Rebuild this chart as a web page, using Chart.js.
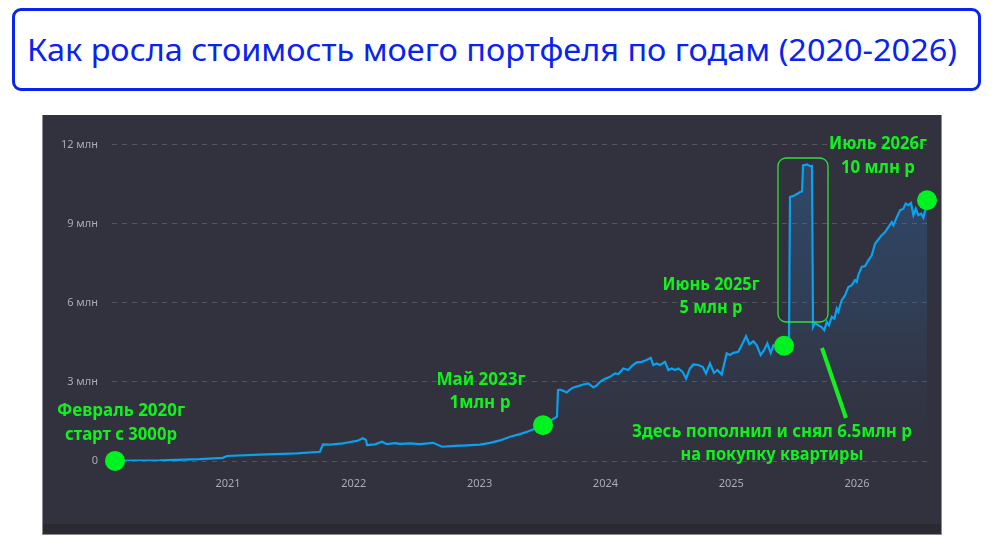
<!DOCTYPE html>
<html>
<head>
<meta charset="utf-8">
<script src="https://cdn.jsdelivr.net/npm/chart.js@4.4.0/dist/chart.umd.min.js"></script>
<style>
  html, body { margin: 0; padding: 0; background: #fff; width: 997px; height: 547px; overflow: hidden; }
  #title { position: absolute; left: 12px; top: 8px; width: 969px; height: 83px; box-sizing: border-box;
           border: 3px solid #0a24f0; border-radius: 9px; }
  #title span { position: absolute; left: 12px; top: 19px; line-height: 40px; font-family: "Noto Sans", sans-serif;
                font-size: 30px; color: #0a24f0; white-space: nowrap; transform-origin: 0 50%; }
  #panel { position: absolute; left: 42px; top: 115px; width: 898px; height: 419px;
           border: 1px solid #8c8c8c; border-top: none; }
  canvas { display: block; }
</style>
</head>
<body>
<div id="title"><span>Как росла стоимость моего портфеля по годам (2020-2026)</span></div>
<div id="panel"><canvas id="myChart" width="898" height="419"></canvas></div>
<script>
// стоимость портфеля, млн руб (x = год с долей)
const years = [
  2020.102, 2020.459, 2020.777, 2020.960, 2020.992, 2021.254, 2021.548, 2021.731, 2021.755, 2021.811,
  2021.914, 2021.970, 2022.025, 2022.073, 2022.097, 2022.105, 2022.169, 2022.224, 2022.264, 2022.328,
  2022.367, 2022.447, 2022.526, 2022.630, 2022.701, 2022.804, 2022.900, 2023.003, 2023.083, 2023.162,
  2023.242, 2023.321, 2023.377, 2023.440, 2023.504, 2023.560, 2023.615,
  2023.623, 2023.639, 2023.665, 2023.692, 2023.719, 2023.745, 2023.785, 2023.824, 2023.864, 2023.904,
  2023.931, 2023.957, 2023.997, 2024.037, 2024.076, 2024.103, 2024.142, 2024.182, 2024.209, 2024.249,
  2024.289, 2024.328, 2024.360, 2024.381, 2024.408, 2024.434, 2024.474, 2024.500, 2024.527, 2024.553,
  2024.580, 2024.614, 2024.641, 2024.672, 2024.699, 2024.738, 2024.773, 2024.800, 2024.831, 2024.863,
  2024.890, 2024.924, 2024.964, 2024.990, 2025.017, 2025.056, 2025.083, 2025.118, 2025.144, 2025.176,
  2025.203, 2025.234, 2025.261, 2025.287, 2025.314, 2025.335, 2025.364, 2025.420, 2025.459,
  2025.467, 2025.507, 2025.547, 2025.563, 2025.571, 2025.603, 2025.626, 2025.642,
  2025.650, 2025.666, 2025.692, 2025.719, 2025.740, 2025.759, 2025.777, 2025.799, 2025.820, 2025.839,
  2025.851, 2025.878, 2025.905, 2025.931, 2025.958, 2025.984, 2025.998, 2026.010, 2026.037, 2026.064,
  2026.090, 2026.117, 2026.143, 2026.169, 2026.196, 2026.223, 2026.249, 2026.276, 2026.289, 2026.316,
  2026.342, 2026.368, 2026.387, 2026.408, 2026.429, 2026.448, 2026.467, 2026.487, 2026.509, 2026.527,
  2026.541, 2026.556
];
const values = [
  0.003, 0.02, 0.07, 0.12, 0.19, 0.24, 0.29, 0.35, 0.63, 0.62,
  0.67, 0.72, 0.76, 0.86, 0.80, 0.60, 0.63, 0.73, 0.64, 0.68,
  0.65, 0.67, 0.64, 0.69, 0.54, 0.57, 0.59, 0.62, 0.69, 0.78,
  0.92, 1.02, 1.11, 1.22, 1.36, 1.52, 1.68,
  2.69, 2.71, 2.66, 2.60, 2.71, 2.79, 2.84, 2.90, 2.94, 2.79,
  2.87, 3.00, 3.12, 3.19, 3.32, 3.30, 3.51, 3.45, 3.60, 3.74,
  3.76, 3.83, 3.91, 3.64, 3.70, 3.64, 3.76, 3.45, 3.51, 3.45,
  3.51, 3.38, 3.13, 3.51, 3.66, 3.64, 3.57, 3.32, 3.70, 3.34,
  3.45, 3.28, 4.08, 4.02, 4.10, 4.14, 4.39, 4.73, 4.43, 4.54,
  4.39, 4.02, 4.20, 4.46, 4.10, 4.39, 4.30, 4.37, 4.50,
  10.01, 10.08, 10.20, 10.22, 11.21, 11.25, 11.18, 11.19,
  5.08, 5.24, 5.15, 5.08, 4.96, 5.28, 5.15, 5.47, 5.40, 5.78,
  5.66, 6.10, 6.29, 6.60, 6.67, 6.86, 6.79, 7.05, 7.36, 7.39,
  7.61, 7.80, 8.24, 8.40, 8.56, 8.68, 8.87, 9.06, 8.94, 9.25,
  9.51, 9.57, 9.76, 9.70, 9.78, 9.32, 9.57, 9.32, 9.38, 9.23,
  9.51, 9.85
];
const markerYears = [2020.102, 2023.504, 2025.420, 2026.556];
const markerValues = [0.003, 1.36, 4.37, 9.89];
const xTickValues = [2021, 2022, 2023, 2024, 2025, 2026];
const xTickLabels = ['2021', '2022', '2023', '2024', '2025', '2026'];
const yTickValues = [0, 3, 6, 9, 12];
const yTickLabels = ['0', '3 млн', '6 млн', '9 млн', '12 млн'];

// подписи: текст, центр x, базовая линия y, макс. ширина (в пикселях канваса)
const notes = [
  ['Февраль 2020г', 78, 301, 128],
  ['старт с 3000р', 78, 325, 112],
  ['Май 2023г', 438, 270, 91],
  ['1млн р', 437, 293, 61],
  ['Июнь 2025г', 668, 175, 97],
  ['5 млн р', 668, 198, 63],
  ['Июль 2026г', 835, 34, 98],
  ['10 млн р', 835, 58, 74],
  ['Здесь пополнил и снял 6.5млн р', 729, 322, 280],
  ['на покупку квартиры', 729, 345, 183]
];

const GREEN = '#12f01e';

// подгоняем ширину заголовка
const t = document.querySelector('#title span');
t.style.transform = 'scaleX(' + (930 / t.getBoundingClientRect().width) + ')';

const panelBg = {
  id: 'panelBg',
  beforeDraw(chart) {
    const c = chart.ctx;
    c.save();
    c.fillStyle = '#32323e';
    c.fillRect(0, 0, chart.width, chart.height);
    c.fillStyle = '#2a2a33';
    c.fillRect(0, chart.height - 10, chart.width, 10);
    c.restore();
  }
};

const notesPlugin = {
  id: 'notes',
  afterDraw(chart) {
    const c = chart.ctx;
    c.save();
    // рамка вокруг всплеска
    c.strokeStyle = '#2ee03a';
    c.lineWidth = 1.3;
    c.beginPath();
    c.roundRect(735, 43, 50, 164, 8);
    c.stroke();
    // указатель
    c.strokeStyle = GREEN;
    c.lineWidth = 4;
    c.beginPath();
    c.moveTo(779, 233);
    c.lineTo(803, 303);
    c.stroke();
    c.fillStyle = GREEN;
    c.font = 'bold 17px "Noto Sans"';
    c.textAlign = 'center';
    c.textBaseline = 'alphabetic';
    notes.forEach(n => c.fillText(n[0], n[1], n[2], n[3]));
    c.restore();
  }
};

const ctx = document.getElementById('myChart');

new Chart(ctx, {
  type: 'line',
  data: {
    datasets: [
      {
        data: markerYears.map((x, i) => ({ x: x, y: markerValues[i] })),
        showLine: false,
        pointRadius: 10,
        pointBackgroundColor: '#00f220',
        pointBorderWidth: 0,
        clip: false,
        order: 0
      },
      {
        data: years.map((x, i) => ({ x: x, y: values[i] })),
        borderColor: '#08a2f0',
        borderWidth: 2.2,
        pointRadius: 0,
        tension: 0,
        fill: 'origin',
        backgroundColor: (context) => {
          const { ctx, chartArea } = context.chart;
          if (!chartArea) return 'rgba(0,0,0,0)';
          const g = ctx.createLinearGradient(0, chartArea.top, 0, chartArea.bottom);
          g.addColorStop(0, 'rgba(40,120,200,0.35)');
          g.addColorStop(0.5, 'rgba(40,120,200,0.18)');
          g.addColorStop(0.8, 'rgba(40,120,200,0.04)');
          g.addColorStop(1, 'rgba(40,120,200,0)');
          return g;
        },
        order: 1
      }
    ]
  },
  options: {
    responsive: false,
    animation: false,
    layout: { padding: { top: 0, right: 13, left: 0, bottom: 0 } },
    plugins: { legend: { display: false }, tooltip: { enabled: false } },
    scales: {
      x: {
        type: 'linear',
        min: 2020.078,
        max: 2026.564,
        afterBuildTicks: s => { s.ticks = xTickValues.map(v => ({ value: v })); },
        afterFit: s => { s.height = 73; },
        grid: { display: false },
        border: { display: false },
        ticks: {
          padding: 8,
          color: '#a8aab4',
          font: { family: '"Noto Sans"', size: 11 },
          maxRotation: 0,
          callback: (v, i) => xTickLabels[i]
        }
      },
      y: {
        min: 0,
        max: 12.34,
        afterBuildTicks: s => { s.ticks = yTickValues.map(v => ({ value: v })); },
        afterFit: s => { s.width = 69; },
        grid: { color: 'rgba(255,255,255,0.17)', drawTicks: false },
        border: { display: false, dash: [5, 5] },
        ticks: {
          padding: 14,
          color: '#a8aab4',
          font: { family: '"Noto Sans"', size: 11 },
          callback: (v, i) => yTickLabels[i]
        }
      }
    }
  },
  plugins: [panelBg, notesPlugin]
});
</script>
</body>
</html>
